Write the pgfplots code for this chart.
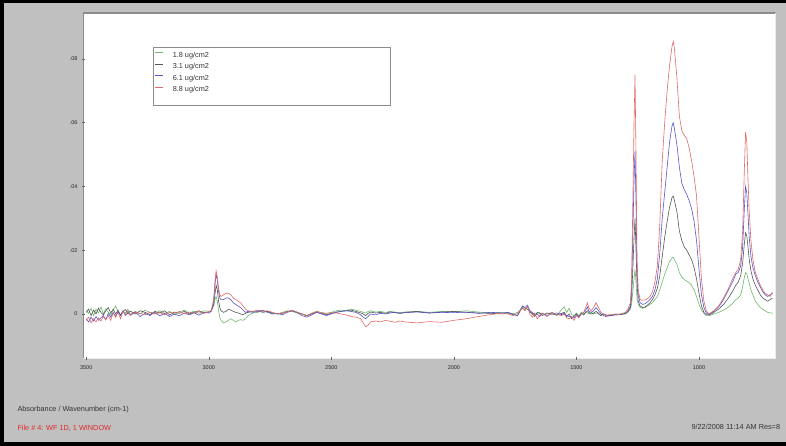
\documentclass[border=0pt]{standalone}
\usepackage{fontspec}
\setmainfont{Liberation Sans}
\usepackage{pgfplots}
\usepackage{pgfplotstable}
\pgfplotsset{compat=1.18}
\definecolor{bggray}{RGB}{192,192,192}
\definecolor{cgreen}{RGB}{110,185,110}
\definecolor{cdark}{RGB}{85,85,85}
\definecolor{cblue}{RGB}{85,85,205}
\definecolor{cred}{RGB}{225,105,105}
\definecolor{ftxt}{RGB}{225,40,40}
\pgfplotstableread{
x g d b r
3500 0.0010 0.0005 -0.0015 -0.0020
3490 0.0002 0.0015 -0.0025 -0.0010
3480 0.0018 -0.0005 -0.0010 -0.0028
3470 -0.0005 0.0012 -0.0022 -0.0015
3460 0.0015 0.0000 -0.0008 -0.0025
3450 0.0003 0.0018 -0.0020 -0.0012
3440 0.0022 0.0005 -0.0012 -0.0022
3430 0.0000 -0.0003 -0.0005 -0.0008
3420 0.0016 0.0010 -0.0018 -0.0018
3410 0.0005 0.0020 0.0002 -0.0005
3400 -0.0003 0.0003 -0.0010 -0.0020
3390 0.0012 0.0015 0.0005 0.0003
3380 0.0025 0.0000 -0.0008 -0.0010
3370 0.0008 0.0012 0.0008 0.0005
3360 -0.0005 -0.0005 -0.0003 -0.0015
3350 0.0010 0.0008 0.0010 0.0008
3340 0.0002 0.0014 -0.0005 -0.0003
3330 0.0015 0.0002 0.0003 0.0010
3320 -0.0002 0.0009 -0.0002 -0.0005
3300 0.0008 0.0000 0.0006 0.0005
3280 0.0000 0.0010 -0.0008 0.0002
3260 0.0012 0.0005 0.0002 -0.0003
3240 0.0005 -0.0002 -0.0005 0.0006
3220 0.0000 0.0008 0.0005 0.0000
3200 0.0010 0.0003 -0.0006 0.0004
3180 0.0002 0.0010 0.0002 -0.0002
3160 0.0008 -0.0003 -0.0008 0.0005
3140 -0.0002 0.0006 0.0000 0.0002
3120 0.0006 0.0002 -0.0006 0.0008
3100 0.0012 0.0008 0.0003 0.0000
3080 0.0003 0.0000 -0.0003 0.0006
3060 0.0009 0.0005 0.0004 0.0003
3040 0.0002 0.0010 -0.0004 0.0008
3020 0.0010 0.0003 0.0005 0.0002
3000 0.0008 0.0006 0.0003 0.0007
2990 0.0010 0.0010 0.0008 0.0010
2980 0.0025 0.0030 0.0040 0.0045
2975 0.0045 0.0060 0.0090 0.0100
2970 0.0055 0.0090 0.0125 0.0135
2965 0.0040 0.0075 0.0105 0.0115
2960 0.0010 0.0040 0.0070 0.0080
2955 -0.0010 0.0020 0.0050 0.0060
2950 -0.0020 0.0010 0.0045 0.0055
2940 -0.0028 0.0005 0.0045 0.0060
2930 -0.0025 0.0008 0.0050 0.0065
2920 -0.0020 0.0015 0.0050 0.0065
2910 -0.0015 0.0012 0.0045 0.0060
2900 -0.0020 0.0008 0.0035 0.0050
2890 -0.0025 0.0005 0.0030 0.0045
2880 -0.0020 0.0003 0.0025 0.0040
2870 -0.0018 0.0000 0.0020 0.0035
2860 -0.0020 -0.0002 0.0012 0.0025
2850 -0.0015 0.0002 0.0005 0.0015
2840 -0.0005 0.0005 0.0008 0.0010
2820 0.0003 0.0008 0.0005 0.0008
2800 0.0005 0.0010 0.0008 0.0012
2780 0.0010 0.0005 0.0012 0.0008
2760 0.0006 0.0008 0.0005 0.0010
2740 0.0002 0.0003 0.0000 0.0005
2720 0.0000 0.0000 0.0002 0.0000
2700 0.0005 0.0002 -0.0003 0.0003
2680 0.0010 0.0008 0.0005 0.0006
2660 0.0008 0.0010 0.0010 0.0012
2640 0.0003 0.0005 0.0005 0.0006
2620 0.0000 0.0000 -0.0005 0.0000
2600 -0.0005 -0.0006 -0.0010 -0.0005
2580 0.0002 0.0000 -0.0003 0.0002
2560 0.0008 0.0005 0.0005 0.0008
2540 0.0005 0.0002 0.0000 0.0003
2520 0.0002 -0.0003 -0.0005 0.0000
2500 0.0005 0.0002 0.0000 0.0004
2480 0.0010 0.0006 0.0005 0.0003
2460 0.0012 0.0008 0.0008 0.0000
2440 0.0010 0.0010 0.0010 -0.0003
2420 0.0015 0.0012 0.0008 -0.0008
2400 0.0012 0.0008 0.0005 -0.0010
2380 0.0008 0.0003 -0.0003 -0.0015
2370 0.0005 0.0000 -0.0010 -0.0028
2360 0.0003 -0.0005 -0.0015 -0.0040
2350 0.0008 0.0002 -0.0008 -0.0035
2340 0.0010 0.0006 0.0000 -0.0025
2320 0.0006 0.0003 -0.0003 -0.0022
2300 0.0008 0.0005 0.0002 -0.0025
2280 0.0005 0.0002 0.0000 -0.0020
2260 0.0008 0.0006 0.0003 -0.0023
2240 0.0006 0.0004 0.0005 -0.0026
2220 0.0004 0.0002 0.0002 -0.0022
2200 0.0006 0.0005 0.0004 -0.0025
2150 0.0008 0.0008 0.0006 -0.0028
2100 0.0005 0.0003 0.0003 -0.0024
2050 0.0008 0.0006 0.0005 -0.0026
2000 0.0006 0.0008 0.0004 -0.0020
1950 0.0010 0.0005 0.0006 -0.0015
1900 0.0006 0.0003 0.0002 -0.0008
1850 0.0003 0.0002 0.0005 -0.0002
1800 0.0005 0.0000 0.0003 0.0003
1780 0.0002 0.0005 0.0005 0.0000
1760 0.0000 -0.0002 0.0000 -0.0005
1740 0.0005 -0.0005 -0.0005 0.0002
1720 0.0020 0.0025 0.0025 0.0018
1710 0.0012 0.0018 0.0020 0.0010
1700 0.0022 0.0015 0.0028 0.0025
1690 0.0005 0.0008 0.0010 0.0000
1680 0.0003 0.0000 0.0005 -0.0010
1670 -0.0005 -0.0008 -0.0003 0.0003
1660 0.0002 0.0005 0.0000 -0.0015
1650 0.0005 0.0002 -0.0008 -0.0005
1640 -0.0003 -0.0005 0.0003 0.0002
1620 0.0000 0.0003 -0.0005 -0.0008
1600 0.0005 0.0000 0.0000 0.0005
1580 -0.0005 -0.0003 0.0003 -0.0002
1560 0.0015 0.0002 -0.0002 -0.0005
1550 0.0022 0.0005 0.0003 0.0000
1540 0.0005 -0.0008 -0.0005 -0.0012
1530 0.0018 0.0000 -0.0008 -0.0015
1520 0.0000 -0.0015 -0.0010 -0.0008
1510 -0.0008 -0.0005 -0.0012 -0.0020
1500 0.0003 0.0000 -0.0003 -0.0005
1490 -0.0005 -0.0010 -0.0008 -0.0012
1480 0.0005 0.0003 0.0000 0.0000
1470 0.0000 -0.0003 0.0005 0.0005
1460 0.0005 0.0008 0.0015 0.0025
1455 0.0003 0.0010 0.0022 0.0035
1450 0.0000 0.0005 0.0010 0.0020
1440 0.0005 0.0000 0.0005 0.0010
1430 0.0000 0.0003 0.0010 0.0020
1420 0.0003 0.0008 0.0020 0.0035
1410 0.0000 0.0002 0.0010 0.0020
1400 -0.0005 -0.0005 0.0000 0.0005
1390 0.0000 0.0000 -0.0005 0.0000
1380 -0.0005 -0.0003 -0.0008 -0.0005
1360 -0.0003 -0.0005 -0.0005 -0.0002
1340 -0.0002 0.0000 -0.0003 -0.0003
1320 0.0000 -0.0002 -0.0002 0.0000
1300 0.0000 0.0002 0.0002 0.0005
1290 0.0005 0.0008 0.0010 0.0015
1280 0.0015 0.0020 0.0025 0.0035
1275 0.0030 0.0050 0.0080 0.0100
1270 0.0070 0.0140 0.0250 0.0350
1265 0.0110 0.0240 0.0420 0.0600
1261 0.0140 0.0300 0.0510 0.0750
1257 0.0100 0.0200 0.0350 0.0500
1253 0.0050 0.0100 0.0140 0.0180
1248 0.0030 0.0040 0.0060 0.0075
1240 0.0020 0.0025 0.0035 0.0045
1230 0.0018 0.0020 0.0030 0.0043
1220 0.0020 0.0022 0.0032 0.0044
1210 0.0025 0.0028 0.0038 0.0048
1200 0.0030 0.0035 0.0045 0.0055
1190 0.0035 0.0045 0.0055 0.0070
1180 0.0045 0.0060 0.0075 0.0100
1170 0.0055 0.0080 0.0110 0.0150
1160 0.0075 0.0120 0.0190 0.0280
1150 0.0100 0.0180 0.0300 0.0480
1140 0.0125 0.0240 0.0380 0.0600
1130 0.0145 0.0290 0.0460 0.0700
1120 0.0165 0.0335 0.0540 0.0780
1110 0.0175 0.0365 0.0590 0.0840
1105 0.0178 0.0370 0.0600 0.0855
1100 0.0170 0.0355 0.0580 0.0830
1090 0.0155 0.0320 0.0530 0.0740
1080 0.0130 0.0260 0.0460 0.0620
1070 0.0115 0.0230 0.0410 0.0575
1060 0.0108 0.0210 0.0390 0.0560
1050 0.0103 0.0200 0.0375 0.0550
1040 0.0098 0.0185 0.0355 0.0520
1030 0.0090 0.0170 0.0330 0.0480
1020 0.0075 0.0145 0.0290 0.0430
1010 0.0055 0.0110 0.0230 0.0370
1000 0.0030 0.0065 0.0140 0.0240
990 0.0012 0.0025 0.0060 0.0110
980 0.0002 0.0005 0.0020 0.0040
970 -0.0005 -0.0003 0.0003 0.0010
960 -0.0005 -0.0003 -0.0002 0.0000
950 -0.0003 0.0000 0.0003 0.0005
940 0.0000 0.0005 0.0008 0.0010
920 0.0005 0.0015 0.0022 0.0025
900 0.0012 0.0030 0.0045 0.0050
880 0.0022 0.0050 0.0075 0.0080
860 0.0035 0.0075 0.0105 0.0115
850 0.0045 0.0090 0.0125 0.0130
840 0.0050 0.0100 0.0130 0.0140
830 0.0060 0.0120 0.0150 0.0170
822 0.0085 0.0160 0.0210 0.0260
815 0.0115 0.0220 0.0330 0.0450
810 0.0130 0.0255 0.0400 0.0570
805 0.0125 0.0245 0.0380 0.0540
800 0.0110 0.0210 0.0310 0.0420
795 0.0095 0.0170 0.0240 0.0320
788 0.0075 0.0135 0.0180 0.0230
780 0.0060 0.0110 0.0145 0.0170
770 0.0040 0.0090 0.0120 0.0130
760 0.0030 0.0075 0.0100 0.0110
750 0.0020 0.0060 0.0085 0.0090
740 0.0015 0.0050 0.0070 0.0075
730 0.0010 0.0045 0.0060 0.0065
720 0.0005 0.0040 0.0055 0.0060
710 0.0003 0.0045 0.0060 0.0055
700 0.0003 0.0050 0.0065 0.0070
}\spec
\begin{document}
\begin{tikzpicture}[x=1pt,y=1pt]
\useasboundingbox (0,0) rectangle (786,446);
\fill[black] (0,0) rectangle (786,446);
\fill[bggray] (4,4) rectangle (786,443);
\fill[white] (84,88) rectangle (775.5,433);
\draw[black!45, line width=1.4pt] (83.5,88) -- (83.5,433) -- (776,433);
\draw[black!8, line width=1pt] (775.8,433) -- (775.8,87.5) -- (83,87.5);
\begin{axis}[
  at={(85pt,89pt)}, anchor=south west, scale only axis,
  width=689pt, height=343pt,
  x dir=reverse, xmin=694, xmax=3505,
  ymin=-0.0135, ymax=0.0941,
  scaled x ticks=false, scaled y ticks=false,
  axis line style={draw=none},
  xtick={1000,1500,2000,2500,3000,3500},
  xticklabels={1000,1500,2000,2500,3000,3500},
  ytick={0,0.02,0.04,0.06,0.08},
  yticklabels={0,.02,.04,.06,.08},
  tick align=outside, major tick length=3pt,
  tick style={black!60, line width=0.5pt},
  xtick pos=bottom, ytick pos=left,
  /pgf/number format/assume math mode=true,
  ticklabel style={font=\fontsize{5.5}{6.5}\selectfont, text=black!85},
  xticklabel style={yshift=-2pt},
  yticklabel style={xshift=-1pt},
  legend style={draw=none, fill=none, at={(rel axis cs:0.1016,0.889)}, anchor=north west,
    inner sep=0pt, row sep=6.5pt, column sep=9pt,
    nodes={inner sep=0pt, text height=5pt, text depth=0pt, font=\fontsize{7.3}{8}\selectfont, text=black!80}},
  legend cell align=left,
  legend image code/.code={\draw[#1] (0pt,2.2pt) -- (8pt,2.2pt);},
  every axis plot/.append style={line width=0.6pt},
]
\addplot[cgreen] table[x=x,y=g]{\spec};
\addplot[cdark] table[x=x,y=d]{\spec};
\addplot[cblue] table[x=x,y=b]{\spec};
\addplot[cred] table[x=x,y=r]{\spec};
\legend{1.8 ug/cm2, 3.1 ug/cm2, 6.1 ug/cm2, 8.8 ug/cm2}
\end{axis}
\draw[black!45, line width=0.8pt] (153,341) rectangle (390,399);
\node[anchor=west, font=\fontsize{7.3}{8}\selectfont, text=black!80] at (14,36) {Absorbance / Wavenumber (cm-1)};
\node[anchor=west, font=\fontsize{7.3}{8}\selectfont, text=ftxt] at (14,18) {File \# 4: WF 1D, 1 WINDOW};
\node[anchor=west, font=\fontsize{7.3}{8}\selectfont, text=black!80] at (688,19) {9/22/2008 11:14 AM Res=8};
\end{tikzpicture}
\end{document}
